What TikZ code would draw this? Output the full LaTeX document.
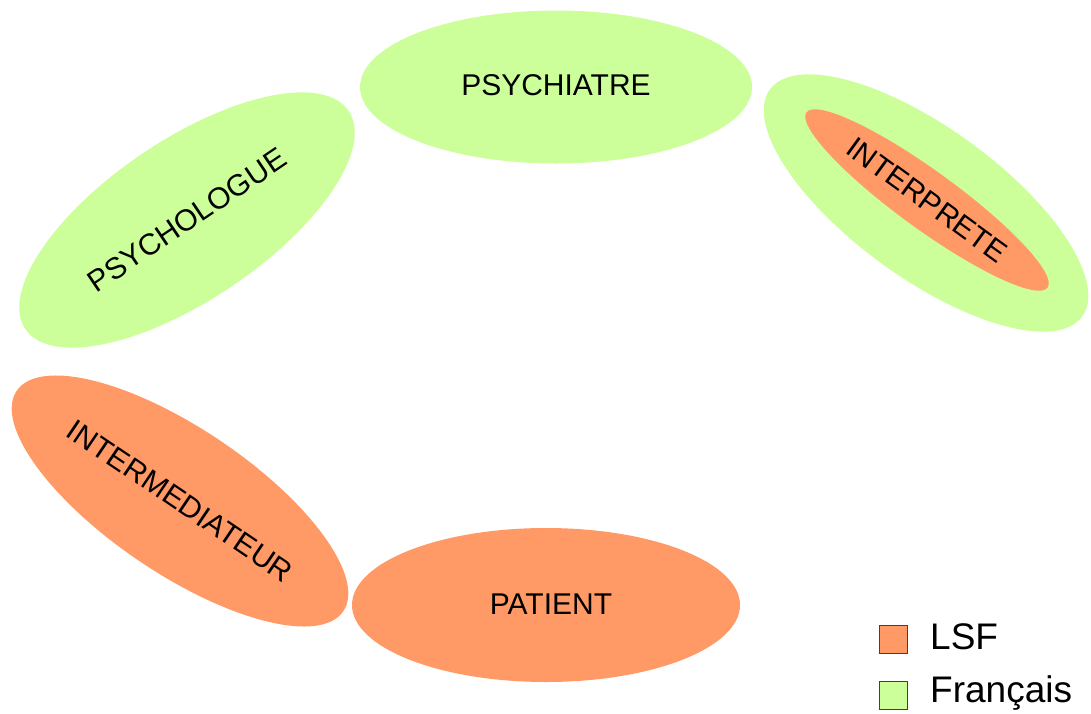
\documentclass[tikz,border=0pt]{standalone}
\usepackage{fontspec}
\setmainfont{Liberation Sans}
\usetikzlibrary{shapes.geometric}
\definecolor{lsf}{RGB}{255,153,102}
\definecolor{fr}{RGB}{204,255,153}
\tikzset{
  blob/.style={ellipse, inner sep=0pt, outer sep=0pt, text=black,
    font=\fontsize{30}{34}\selectfont},
  legbox/.style={draw=black!75, line width=1pt, minimum size=28pt, inner sep=0pt},
  legtext/.style={anchor=west, inner sep=0pt, font=\fontsize{37}{40}\selectfont}
}
\begin{document}
\begin{tikzpicture}[x=1pt,y=-1pt]
\useasboundingbox (0,0) rectangle (1091,713);
% PSYCHIATRE
\node[blob, fill=fr, minimum width=392pt, minimum height=153pt] (psychiatre) at (556,87) {\raisebox{4pt}{PSYCHIATRE}};
% PSYCHOLOGUE
\node[blob, fill=fr, minimum width=390pt, minimum height=160pt, rotate=34] (psychologue) at (187,220) {PSYCHOLOGUE};
% INTERPRETE
\node[blob, fill=fr, minimum width=386pt, minimum height=150pt, rotate=-36] (interpreteout) at (926,203) {};
\node[blob, fill=lsf, minimum width=298pt, minimum height=58pt, rotate=-36] (interprete) at (927,200) {INTERPRETE};
% INTERMEDIATEUR
\node[blob, fill=lsf, minimum width=394pt, minimum height=145pt, rotate=-34] (intermediateur) at (180,501) {INTERMEDIATEUR};
% PATIENT
\node[blob, fill=lsf, minimum width=388pt, minimum height=154pt] (patient) at (546,605) {\hspace{10pt}\raisebox{2pt}{PATIENT}};
% Legend
\node[legbox, fill=lsf] (boxlsf) at (893.5,639) {};
\node[legtext] (txtlsf) at (930,637) {LSF};
\node[legbox, fill=fr] (boxfr) at (893.5,695.5) {};
\node[legtext] (txtfr) at (930,693) {Français};
\end{tikzpicture}
\end{document}
